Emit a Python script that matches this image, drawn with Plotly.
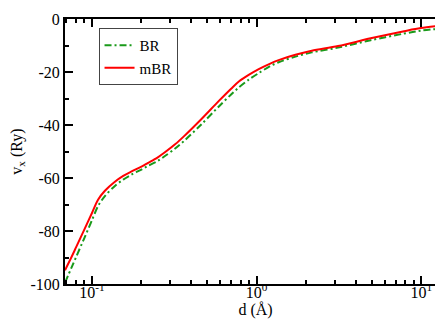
import math
import plotly.graph_objects as go

d_vals = [0.0687, 0.075, 0.08, 0.0907, 0.1, 0.109, 0.12, 0.138, 0.155, 0.173,
          0.2, 0.218, 0.25, 0.275, 0.32, 0.363, 0.458, 0.59, 0.7, 0.78,
          0.9, 1.03, 1.2, 1.36, 1.72, 2.16, 3.12, 4.92, 7.85, 9.9, 14.1]
v_mbr = [-94.8, -90.0, -86.3, -79.0, -73.3, -68.2, -64.8, -61.4, -59.2, -57.6,
         -55.7, -54.4, -52.3, -50.5, -47.3, -44.2, -38.0, -30.9, -26.3, -23.6,
         -21.0, -18.9, -16.9, -15.5, -13.5, -12.0, -10.2, -7.3, -4.6, -3.4, -2.3]
v_br = [-99.5, -94.0, -90.0, -82.2, -76.0, -70.6, -66.8, -63.0, -60.6, -58.8,
        -56.8, -55.5, -53.6, -51.9, -48.9, -46.0, -40.0, -33.0, -28.5, -25.8,
        -22.8, -20.4, -17.9, -16.3, -14.2, -12.6, -10.8, -8.0, -5.5, -4.4, -3.5]

x_tickvals = [0.1, 1, 10]
x_ticktext = ["10<sup>-1</sup>", "10<sup>0</sup>", "10<sup>1</sup>"]
x_minor = [0.07, 0.08, 0.09, 0.2, 0.3, 0.4, 0.5, 0.6, 0.7, 0.8, 0.9,
           2, 3, 4, 5, 6, 7, 8, 9]
y_tickvals = [-100, -80, -60, -40, -20, 0]
y_ticktext = ["-100", "-80", "-60", "-40", "-20", "0"]

FONT = "Liberation Serif, Times New Roman, serif"

fig = go.Figure()
fig.add_trace(go.Scatter(x=d_vals, y=v_br, mode="lines", name="BR",
                         line=dict(color="#1a9a1a", width=2, dash="7px,3px,2px,3px",
                                   shape="spline", smoothing=0.9)))
fig.add_trace(go.Scatter(x=d_vals, y=v_mbr, mode="lines", name="mBR",
                         line=dict(color="#ff0000", width=2, shape="spline", smoothing=0.9)))

fig.update_layout(
    width=443, height=319,
    margin=dict(l=55, r=3, t=7, b=43),
    paper_bgcolor="white", plot_bgcolor="white",
    font=dict(family=FONT, size=16, color="black"),
    showlegend=True,
    legend=dict(x=0.088, y=0.966, xanchor="left", yanchor="top",
                bordercolor="#444", borderwidth=1, bgcolor="white",
                font=dict(family=FONT, size=15),
                tracegroupgap=0, itemwidth=30),
    xaxis=dict(type="log", range=[math.log10(0.0687), math.log10(14.1)],
               showgrid=False, zeroline=False,
               showline=True, linecolor="black", linewidth=2, mirror="ticks",
               ticks="inside", ticklen=8, tickwidth=2, tickcolor="black",
               tickvals=x_tickvals, ticktext=x_ticktext,
               ticklabelstandoff=-7, ticklabeloverflow="allow",
               minor=dict(ticks="inside", ticklen=4, tickwidth=1.5, tickcolor="black",
                          tickvals=x_minor, showgrid=False),
               title=dict(text="d (Å)", standoff=0, font=dict(size=16))),
    yaxis=dict(range=[-100, 0],
               showgrid=False, zeroline=False,
               showline=True, linecolor="black", linewidth=2, mirror="ticks",
               ticks="inside", ticklen=8, tickwidth=2, tickcolor="black",
               tickvals=y_tickvals, ticktext=y_ticktext,
               ticklabeloverflow="allow",
               minor=dict(ticks="inside", ticklen=4, tickwidth=1.5, tickcolor="black",
                          dtick=10, showgrid=False),
               title=dict(text="v<sub>x</sub> (Ry)", standoff=8, font=dict(size=16))),
)

fig.write_html("out.html")
